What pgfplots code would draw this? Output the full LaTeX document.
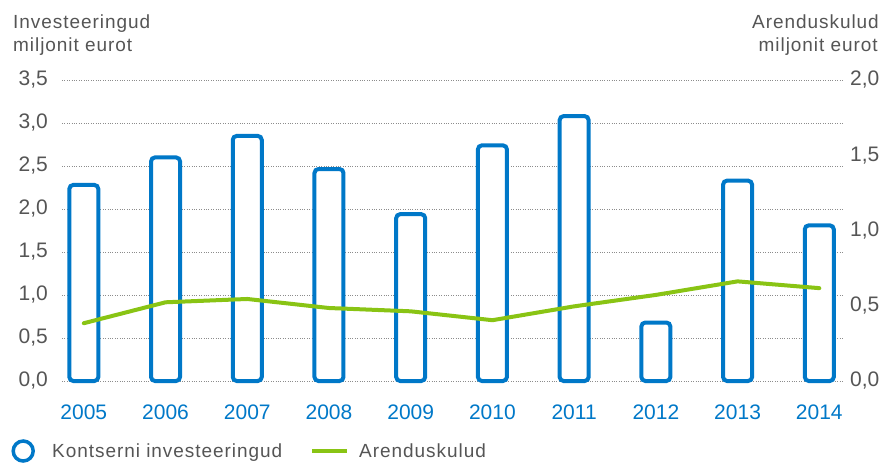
\documentclass[border=0pt]{standalone}
\usepackage{pgfplots}
\pgfplotsset{compat=1.18}
\usepackage{fontspec}
\setmainfont{Liberation Sans}
\newfontfamily\spaced[LetterSpace=5]{Liberation Sans}
\definecolor{barblue}{RGB}{0,120,200}
\definecolor{linegreen}{RGB}{137,196,20}
\definecolor{txtgray}{RGB}{85,85,85}
\definecolor{gridgray}{RGB}{140,140,140}
\begin{document}
\begin{tikzpicture}[x=1pt,y=1pt]
\path[use as bounding box] (0,0) rectangle (884,467);
\begin{axis}[
  at={(62pt,86pt)}, anchor=south west,
  scale only axis, width=781pt, height=301pt,
  xmin=-0.267, xmax=9.29, ymin=0, ymax=3.5,
  axis line style={draw=none},
  major tick length=0pt,
  xtick={0,1,...,9},
  xticklabels={2005,2006,2007,2008,2009,2010,2011,2012,2013,2014},
  xticklabel style={font=\fontsize{21}{24}\selectfont, text=barblue, anchor=north, inner sep=0pt, yshift=-24pt},
  ytick={0,0.5,...,3.5},
  yticklabel style={font=\fontsize{21}{24}\selectfont, text=txtgray, anchor=east, inner sep=0pt, xshift=-14pt},
  /pgf/number format/.cd, fixed, fixed zerofill, precision=1, use comma, assume math mode=true,
  /pgfplots/.cd,
  ymajorgrids,
  grid style={gridgray, line width=0.8pt, dash pattern=on 0.8pt off 1.6pt},
  clip=false,
]
\addplot[ybar, bar width=29pt, draw=barblue, fill=white, line width=4pt, rounded corners=4pt]
  coordinates {(0,2.28) (1,2.60) (2,2.85) (3,2.465) (4,1.94) (5,2.74) (6,3.08) (7,0.68) (8,2.33) (9,1.81)};
\end{axis}
\begin{axis}[
  at={(62pt,86pt)}, anchor=south west,
  scale only axis, width=781pt, height=301pt,
  xmin=-0.267, xmax=9.29, ymin=0, ymax=2,
  axis x line=none,
  axis y line*=right,
  axis line style={draw=none},
  major tick length=0pt,
  ytick={0,0.5,...,2},
  yticklabel style={font=\fontsize{21}{24}\selectfont, text=txtgray, anchor=west, inner sep=0pt, xshift=7pt},
  /pgf/number format/.cd, fixed, fixed zerofill, precision=1, use comma, assume math mode=true,
  /pgfplots/.cd,
  clip=false,
  legend columns=2,
  legend style={at={(-0.0653,-0.2326)}, anchor=west, draw=none, fill=none, inner sep=0pt,
    font=\spaced\fontsize{19}{22}\selectfont, text=txtgray,
    nodes={inner sep=0pt},
    /tikz/every even column/.append style={column sep=28pt}},
]
\addlegendimage{legend image code/.code={\path[draw=none,fill=none] (0pt,-8pt) rectangle (41pt,8pt); \draw[barblue, line width=3.5pt, fill=none] (12pt,0pt) circle (10pt);}}
\addlegendentry{Kontserni investeeringud}
\addplot[linegreen, line width=4pt, line join=round, line cap=round, mark=none,
  legend image code/.code={\path[draw=none,fill=none] (0pt,-8pt) rectangle (47pt,8pt); \draw[linegreen, line width=4pt, line cap=butt] (0pt,0pt) -- (35pt,0pt);}]
  coordinates {(0,0.384) (1,0.523) (2,0.545) (3,0.485) (4,0.463) (5,0.404) (6,0.496) (7,0.572) (8,0.662) (9,0.617)};
\addlegendentry{Arenduskulud}
\end{axis}
\node[anchor=base west, inner sep=0pt, text=txtgray, font=\spaced\fontsize{19}{22}\selectfont] at (13,438.7) {Investeeringud};
\node[anchor=base west, inner sep=0pt, text=txtgray, font=\spaced\fontsize{19}{22}\selectfont] at (13,415.3) {miljonit eurot};
\node[anchor=base east, inner sep=0pt, text=txtgray, font=\spaced\fontsize{19}{22}\selectfont] at (879,438.7) {Arenduskulud};
\node[anchor=base east, inner sep=0pt, text=txtgray, font=\spaced\fontsize{19}{22}\selectfont] at (878,415.3) {miljonit eurot};
\end{tikzpicture}
\end{document}
